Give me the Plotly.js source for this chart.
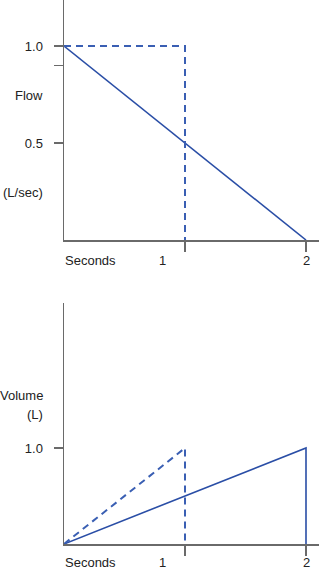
<!DOCTYPE html>
<html>
<head>
<meta charset="utf-8">
<script src="https://cdn.plot.ly/plotly-3.0.1.min.js"></script>
<style>html,body{margin:0;padding:0;background:#fff;}#chart{width:319px;height:570px;}</style>
</head>
<body>
<div id="chart"></div>
<script>
// ---- data ----
const flowTime = [0, 2];
const flowSolid = [1.0, 0];
const flowDashTime = [0, 1, 1];
const flowDash = [1.0, 1.0, 0];
const volTime = [0, 2, 2];
const volSolid = [0, 1.0, 0];
const volDashTime = [0, 1, 1];
const volDash = [0, 1.0, 0];
const xTickVals = [1, 2];
const xTickLabels = ["1", "2"];
const flowTickVals = [0.5, 0.9, 1.0];
const flowTickLabels = ["0.5", "", "1.0"];
const volTickVals = [1.0];
const volTickLabels = ["1.0"];

// ---- layout helpers ----
const W = 319, H = 570;
const py = p => 1 - p / H;
const px = p => p / W;
const blue = '#2a4ea6';
const blueDash = '#3a5fb3';
const axisCol = '#6a6a6a';
const font = {family: 'Liberation Sans, Arial, sans-serif', size: 13, color: '#222'};

const traces = [
  {x: flowTime, y: flowSolid, xaxis: 'x', yaxis: 'y', mode: 'lines', line: {color: blue, width: 1.6}, hoverinfo: 'none'},
  {x: flowDashTime, y: flowDash, xaxis: 'x', yaxis: 'y', mode: 'lines', line: {color: blueDash, width: 2, dash: '7px,5px'}, hoverinfo: 'none'},
  {x: volTime, y: volSolid, xaxis: 'x2', yaxis: 'y2', mode: 'lines', line: {color: blue, width: 1.6}, hoverinfo: 'none'},
  {x: volDashTime, y: volDash, xaxis: 'x2', yaxis: 'y2', mode: 'lines', line: {color: blueDash, width: 2, dash: '7px,5px'}, hoverinfo: 'none'}
];

const xBase = {
  range: [0, 255 / 121], showline: true, linecolor: axisCol, linewidth: 1.5,
  ticks: 'outside', ticklen: 10, tickwidth: 1.5, tickcolor: axisCol,
  tickvals: xTickVals, showticklabels: false, showgrid: false, zeroline: false, fixedrange: true
};
const yBase = {
  showline: true, linecolor: axisCol, linewidth: 1.5,
  ticks: 'outside', ticklen: 9, tickwidth: 1.5, tickcolor: axisCol,
  showgrid: false, zeroline: false, fixedrange: true, tickfont: font, ticklabelstandoff: 8
};

const annotations = [];
function lab(text, x, y, xanchor, xref) {
  annotations.push({text: text, x: x, y: y, xref: xref || 'paper', yref: 'paper',
    xanchor: xanchor, yanchor: 'middle', showarrow: false, font: font});
}
// top panel labels
lab('Flow', px(45), py(96), 'right');
lab('(L/sec)', px(45), py(193), 'right');
lab('Seconds', px(63), py(260), 'left');
// bottom panel labels
lab('Volume', px(45), py(395), 'right');
lab('(L)', px(45), py(414), 'right');
lab('Seconds', px(63), py(562), 'left');
// x tick labels (drawn as annotations to match their placement)
const tickShift = [-23, 0];
[['x', 260], ['x2', 562]].forEach(([ax, yy]) => {
  xTickVals.forEach((v, i) => {
    annotations.push({text: xTickLabels[i], x: v, y: py(yy), xref: ax, yref: 'paper',
      xanchor: 'center', yanchor: 'middle', xshift: tickShift[i], showarrow: false, font: font});
  });
});

const layout = {
  width: W, height: H,
  margin: {l: 0, r: 0, t: 0, b: 0},
  paper_bgcolor: '#fff', plot_bgcolor: '#fff',
  showlegend: false,
  font: font,
  xaxis: Object.assign({}, xBase, {domain: [px(64), 1], anchor: 'y'}),
  yaxis: Object.assign({}, yBase, {domain: [py(240), 1], range: [0, 240 / 194], anchor: 'x',
    tickvals: flowTickVals, ticktext: flowTickLabels}),
  xaxis2: Object.assign({}, xBase, {domain: [px(64), 1], anchor: 'y2'}),
  yaxis2: Object.assign({}, yBase, {domain: [py(544), py(303)], range: [0, 241 / 96], anchor: 'x2',
    tickvals: volTickVals, ticktext: volTickLabels}),
  annotations: annotations
};

Plotly.newPlot('chart', traces, layout, {displayModeBar: false, staticPlot: true});
</script>
</body>
</html>
